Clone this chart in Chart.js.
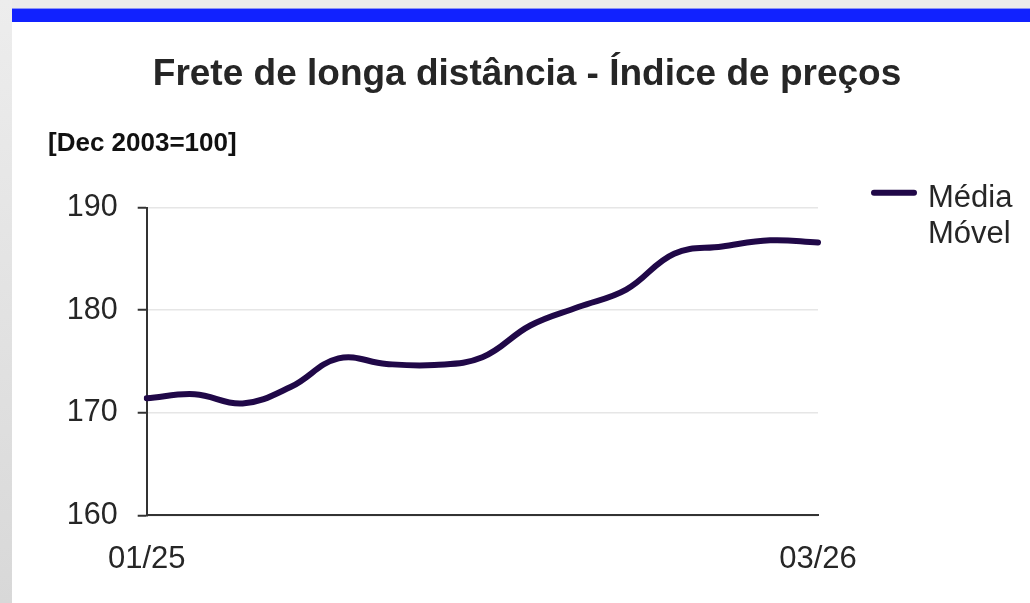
<!DOCTYPE html>
<html>
<head>
<meta charset="utf-8">
<script src="https://cdn.jsdelivr.net/npm/chart.js@4.4.1/dist/chart.umd.min.js"></script>
<style>
  html, body { margin: 0; padding: 0; width: 1030px; height: 603px; overflow: hidden; background: #ebebeb; }
  #left { position: absolute; left: 0; top: 0; width: 12px; height: 603px; background: linear-gradient(#ededed, #d8d8d8); }
  #topbar { position: absolute; left: 12px; top: 8px; width: 1018px; height: 14px; background: #1122ff; border-top: 1px solid #8c93f5; box-sizing: border-box; }
  #panel { position: absolute; left: 12px; top: 22px; width: 1018px; height: 581px; background: #ffffff; }
  canvas { display: block; }
</style>
</head>
<body>
<div id="left"></div>
<div id="topbar"></div>
<div id="panel"><canvas id="c" width="1018" height="581"></canvas></div>
<script>
const chartTitle = 'Frete de longa distância - Índice de preços';
const unitLabel = '[Dec 2003=100]';
const seriesName = 'Média Móvel';
const months = ['01/25','02/25','03/25','04/25','05/25','06/25','07/25','08/25','09/25','10/25','11/25','12/25','01/26','02/26','03/26'];
const movingAverage = [171.4, 171.8, 170.9, 172.5, 175.3, 174.75, 174.65, 175.4, 178.5, 180.3, 182.0, 185.5, 186.2, 186.8, 186.6];
const yTicks = [160, 170, 180, 190];

const FONT = '"Liberation Sans", Arial, sans-serif';
const LINE_COLOR = '#200848';

const decorPlugin = {
  id: 'decor',
  afterDraw(chart) {
    const ctx = chart.ctx;
    ctx.save();
    // Title
    ctx.fillStyle = '#262626';
    ctx.font = 'bold 37px ' + FONT;
    ctx.textAlign = 'center';
    ctx.textBaseline = 'alphabetic';
    ctx.fillText(chartTitle, 515, 62.5);
    // Unit label
    ctx.fillStyle = '#111111';
    ctx.font = 'bold 26px ' + FONT;
    ctx.textAlign = 'left';
    ctx.fillText(unitLabel, 36, 128.5);
    // Legend
    ctx.strokeStyle = LINE_COLOR;
    ctx.lineWidth = 6;
    ctx.lineCap = 'round';
    ctx.beginPath();
    ctx.moveTo(862, 170.7);
    ctx.lineTo(902, 170.7);
    ctx.stroke();
    ctx.fillStyle = '#262626';
    ctx.font = '31px ' + FONT;
    const words = chart.data.datasets[0].label.split(' ');
    words.forEach((w, i) => ctx.fillText(w, 916, 184.5 + i * 36.7));
    ctx.restore();
  }
};

new Chart(document.getElementById('c'), {
  type: 'line',
  data: {
    labels: months,
    datasets: [{
      label: seriesName,
      data: movingAverage,
      borderColor: LINE_COLOR,
      borderWidth: 6,
      pointRadius: 0,
      tension: 0.4,
      fill: false,
      borderCapStyle: 'round'
    }]
  },
  options: {
    responsive: false,
    animation: false,
    layout: { padding: { top: 185.5, left: 0, right: 212, bottom: 27.7 } },
    plugins: { legend: { display: false }, title: { display: false }, tooltip: { enabled: false } },
    scales: {
      x: {
        grid: { display: false, drawTicks: false },
        border: { display: true, color: '#333333', width: 2 },
        ticks: {
          autoSkip: false, maxRotation: 0, minRotation: 0, padding: 26,
          color: '#262626', font: { family: FONT, size: 31 },
          callback: function(v, i, arr) { return (i === 0 || i === arr.length - 1) ? this.getLabelForValue(v) : ''; }
        },
        afterFit(s) { s.height = 60; }
      },
      y: {
        min: yTicks[0], max: yTicks[yTicks.length - 1],
        afterBuildTicks(s) { s.ticks = yTicks.map(v => ({ value: v })); },
        grid: { color: '#e6e6e6', lineWidth: 1.5, tickColor: '#333333', tickWidth: 2, tickLength: 9 },
        border: { display: true, color: '#333333', width: 2 },
        ticks: { padding: 20, color: '#262626', font: { family: FONT, size: 30.5 } },
        afterFit(s) { s.width = 134.7; }
      }
    }
  },
  plugins: [decorPlugin]
});
</script>
</body>
</html>
